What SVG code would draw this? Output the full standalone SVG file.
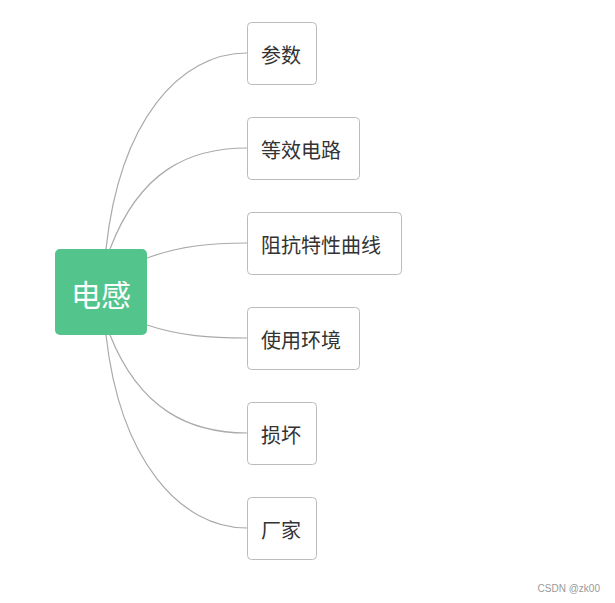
<svg xmlns="http://www.w3.org/2000/svg" width="615" height="603" viewBox="0 0 615 603">
<style>
.n rect{fill:#fff;stroke:#bbb;stroke-width:1}
.n text{font-family:"Noto Sans CJK SC","Liberation Sans",sans-serif;font-size:20px;fill:#333;dominant-baseline:central}
#conn path{fill:none;stroke:#aaa;stroke-width:1.2}
</style>
<rect width="615" height="603" fill="#fff"/>
<g id="conn">
<path d="M106,249 C120,120 180,53 247,53"/>
<path d="M110,249 C140,170 190,148 247,148"/>
<path d="M147,258 C180,246 210,243 247,243"/>
<path d="M147,325 C180,336 210,338 247,338"/>
<path d="M110,335 C140,410 190,433 247,433"/>
<path d="M106,335 C120,460 180,528 247,528"/>
</g>
<g id="root"><rect x="55" y="249" width="92" height="86" rx="5" fill="#52c48c"/><text x="101" y="293" text-anchor="middle" dominant-baseline="central" font-family="Noto Sans CJK SC,sans-serif" font-size="30" fill="#fff">电感</text></g>
<g id="n1" class="n"><rect x="247.5" y="22.5" width="69" height="62" rx="4"/><text x="261" y="54">参数</text></g>
<g id="n2" class="n"><rect x="247.5" y="117.5" width="112" height="62" rx="4"/><text x="261" y="149">等效电路</text></g>
<g id="n3" class="n"><rect x="247.5" y="212.5" width="154" height="62" rx="4"/><text x="261" y="244">阻抗特性曲线</text></g>
<g id="n4" class="n"><rect x="247.5" y="307.5" width="112" height="62" rx="4"/><text x="261" y="339">使用环境</text></g>
<g id="n5" class="n"><rect x="247.5" y="402.5" width="69" height="62" rx="4"/><text x="261" y="434">损坏</text></g>
<g id="n6" class="n"><rect x="247.5" y="497.5" width="69" height="62" rx="4"/><text x="261" y="529">厂家</text></g>
<text x="600" y="592" text-anchor="end" font-family="Liberation Sans,sans-serif" font-size="10" fill="#999">CSDN @zk00</text>
</svg>
